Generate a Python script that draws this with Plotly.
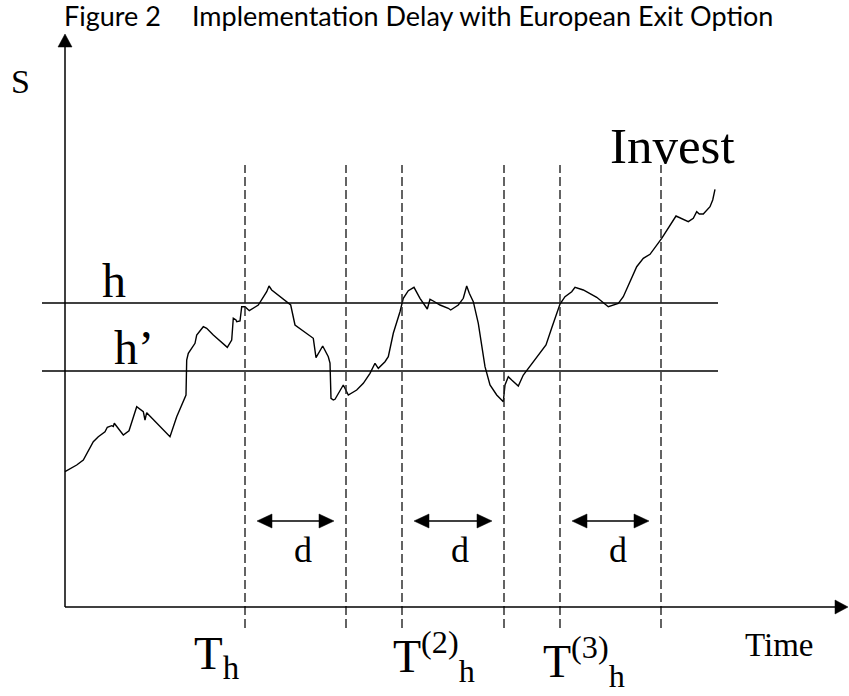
import plotly.graph_objects as go

# ---- data (time, S) ----
time_pts = [0, 11.7, 18.3, 28.3, 33.3, 40, 42.3, 46.7, 48.3, 49.3, 58.3, 64, 71.7, 78.3, 80, 81.7,
            105, 111.7, 121, 121.7, 123.3, 130, 131.7, 138.3, 141.7, 148.3, 162.3, 166.7, 168.3,
            171, 171.7, 175, 176.7, 180, 184.3, 193.3, 201.7, 204, 206.7, 223.3, 225.7, 230,
            248.3, 251, 257.7, 263.3, 265, 266, 268.3, 270, 278.3, 283.3, 291.7, 298.3, 305,
            310, 313.3, 320, 323.3, 328.3, 335, 338.3, 343.3, 349, 355, 362.3, 365, 368.3, 375,
            383.3, 385.7, 393.3, 398.3, 401.7, 404.3, 408.3, 413.3, 420, 425, 431.7, 438.3,
            440, 443.3, 446.7, 453.3, 458.3, 465, 471.7, 476.7, 481, 486.7, 491.7, 495, 500,
            506.7, 510, 518.3, 531.7, 543.3, 553.3, 558.3, 571.7, 578.3, 585, 596.7, 611,
            623.3, 628.3, 631.7, 634.3, 638.3, 645, 647.7, 650]
s_pts = [135.3, 142, 147, 165.3, 170.3, 175.3, 179.7, 181.3, 180.5, 183.7, 172, 176.3, 200.3,
         195.3, 187, 194.3, 170.3, 190.3, 212, 247, 253.7, 263.7, 272, 280.3, 278.7, 272,
         259.7, 267, 288.7, 287, 285.3, 286, 300.3, 300.3, 296.3, 302, 315.3, 321, 317,
         303.7, 302, 282, 268.7, 249.3, 261, 250.3, 244, 208.7, 207, 207.7, 222, 212, 217,
         223.7, 233.7, 243.7, 238.7, 245.3, 250.3, 273.7, 295.3, 308.7, 316.3, 319.7, 308.7,
         298, 307.7, 306, 302, 298.7, 297, 302, 308.7, 321, 313.7, 305.3, 283.7, 240.3, 222,
         212, 205.3, 222, 230.3, 227, 221, 232, 241, 250.3, 257, 262, 279, 293.7, 303,
         310.3, 315.3, 319.7, 317, 309.7, 300.3, 303.7, 310.3, 340.3, 348.7, 352.7, 368.7,
         391, 385.3, 388.7, 395.3, 393, 393, 400.3, 407, 417.7]

h_level = 304
h_prime_level = 236
barrier_span = [-23, 653]
crossing_times = [180, 281, 337, 439, 495, 596]
dashed_span = [-21, 442]
delay_starts = [192, 349, 507]
delay_ends = [269, 427, 584]
delay_level = 86
delay_label_times = [238, 395, 553]
time_axis_end = 783
s_axis_end = 573

title_left = "Figure 2"
title_right = "Implementation Delay with European Exit Option"

BLACK = "#000000"
DASH = "#222222"
SERIF = "Liberation Serif, Times New Roman, serif"
SANS = "Lato, DejaVu Sans, sans-serif"

fig = go.Figure()

# price path
fig.add_trace(go.Scatter(x=time_pts, y=s_pts, mode="lines",
                         line=dict(color=BLACK, width=1.4), hoverinfo="skip"))
# barriers h and h'
for lvl in (h_level, h_prime_level):
    fig.add_trace(go.Scatter(x=barrier_span, y=[lvl, lvl], mode="lines",
                             line=dict(color=BLACK, width=1.3), hoverinfo="skip"))
# dashed verticals
for t in crossing_times:
    fig.add_trace(go.Scatter(x=[t, t], y=dashed_span, mode="lines",
                             line=dict(color=DASH, width=1.4, dash="9px,4px"),
                             hoverinfo="skip"))
# axes lines
fig.add_trace(go.Scatter(x=[0, time_axis_end - 10], y=[0, 0], mode="lines",
                         line=dict(color=BLACK, width=1.5), hoverinfo="skip"))
fig.add_trace(go.Scatter(x=[0, 0], y=[0, s_axis_end - 10], mode="lines",
                         line=dict(color=BLACK, width=1.5), hoverinfo="skip"))
# delay arrows shafts
for a, b in zip(delay_starts, delay_ends):
    fig.add_trace(go.Scatter(x=[a + 10, b - 10], y=[delay_level, delay_level], mode="lines",
                             line=dict(color=BLACK, width=1.5), hoverinfo="skip"))


def tri(tx, ty, dx, dy, length=14, half=7):
    bx, by = tx - dx * length, ty - dy * length
    px, py = -dy * half, dx * half
    return (f"M {tx} {ty} L {bx + px} {by + py} L {bx - px} {by - py} Z")


shapes = []
heads = [tri(time_axis_end, 0, 1, 0, 13, 7), tri(0, s_axis_end, 0, 1, 13, 7)]
for a, b in zip(delay_starts, delay_ends):
    heads.append(tri(a, delay_level, -1, 0, 15, 7))
    heads.append(tri(b, delay_level, 1, 0, 15, 7))
for p in heads:
    shapes.append(dict(type="path", path=p, xref="x", yref="y",
                       fillcolor=BLACK, line=dict(color=BLACK, width=0.5)))

ann = []


def txt(text, x, y, size, xanchor="center", yanchor="middle", family=SERIF):
    ann.append(dict(text=text, x=x, y=y, xref="x", yref="y", showarrow=False,
                    xanchor=xanchor, yanchor=yanchor,
                    font=dict(family=family, size=size, color=BLACK)))


txt(title_left, -3, 592, 27, xanchor="left", family=SANS)
txt(title_right, 125, 592, 27, xanchor="left", family=SANS)
txt("S", -44.5, 525.5, 34)
txt("h", 49, 327, 48)
txt("h\u2019", 47, 259.5, 48, xanchor="left")
txt("Invest", 543, 461.5, 51, xanchor="left")
for t in delay_label_times:
    txt("d", t, 57.5, 36)
txt("T<sub>h</sub>", 127, -49, 47, xanchor="left")
txt("T<sup>(2)</sup><sub>h</sub>", 326, -49, 46, xanchor="left")
txt("T<sup>(3)</sup><sub>h</sub>", 476, -54, 46, xanchor="left")
txt("Time", 678, -37.5, 33, xanchor="left")

fig.update_layout(
    width=849, height=696, margin=dict(l=0, r=0, t=0, b=0),
    paper_bgcolor="white", plot_bgcolor="white", showlegend=False,
    xaxis=dict(range=[-65, 784], visible=False, fixedrange=True),
    yaxis=dict(range=[-89, 607], visible=False, fixedrange=True),
    shapes=shapes, annotations=ann,
)

# remove the default page margin so the figure fills the window exactly
fig.write_html("out.html", config={"displayModeBar": False},
               post_script="document.body.style.margin='0';document.body.style.overflow='hidden';")
